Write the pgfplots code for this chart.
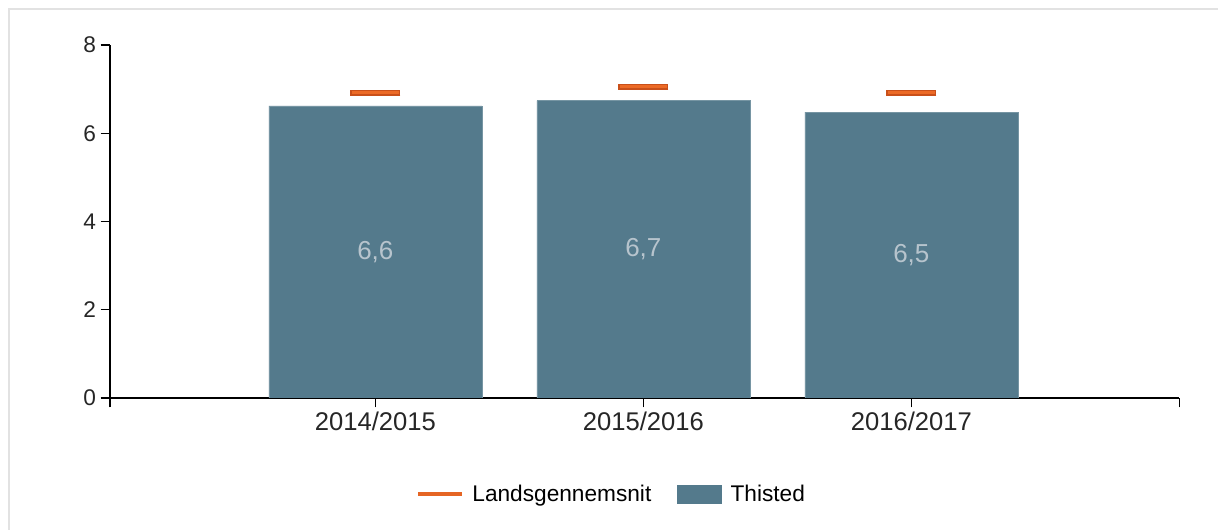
\documentclass[border=0pt]{standalone}
\usepackage{pgfplots}
\pgfplotsset{compat=1.18}
\usepackage{fontspec}
\setmainfont{Liberation Sans}
\definecolor{barc}{HTML}{547A8C}
\definecolor{orgd}{HTML}{C9501A}
\definecolor{orgl}{HTML}{EC6A26}
\definecolor{framec}{HTML}{E2E2E2}
\definecolor{lblc}{HTML}{B7C4CD}
\begin{document}
\begin{tikzpicture}[x=1pt,y=1pt]
\path[use as bounding box] (0,0) rectangle (913.5,397.5);
\draw[framec, line width=1.5pt] (6.4,0) -- (6.4,391.1) -- (913.5,391.1);
\begin{axis}[
  at={(82.5pt,99pt)}, anchor=south west,
  scale only axis, width=802pt, height=264.75pt,
  xmin=0.01, xmax=4, ymin=0, ymax=8,
  axis x line*=bottom, axis y line*=left,
  axis line style={black, line width=1.1pt},
  tick align=outside, major tick length=7pt,
  tick style={black, line width=1.1pt},
  xtick={0.01,1,2,3,4}, xticklabels={,2014/2015,2015/2016,2016/2017,},
  ytick={0,2,4,6,8},
  tick label style={font=\fontsize{17}{20}\selectfont, text=black!85},
  x tick label style={font=\fontsize{19.2}{22}\selectfont},
  /pgf/number format/assume math mode=true,
  legend style={at={(0.4695,-0.272)}, anchor=center, draw=none,
    font=\fontsize{17}{20}\selectfont,
    /tikz/every even column/.append style={column sep=17.5pt}},
  legend columns=2,
]
\addlegendimage{legend image code/.code={\draw[orgl!80!orgd, line width=2.4pt] (0pt,0pt) -- (33pt,0pt);}}
\addlegendentry{\hspace{4.5pt}Landsgennemsnit}
\addplot[ybar, bar width=0.795, fill=barc, draw=barc!80!white, line width=0.4pt,
  legend image code/.code={\fill[barc] (0pt,-6.75pt) rectangle (33pt,6.75pt);},
  visualization depends on={rawy \as \rawy},
  nodes near coords={\pgfmathprintnumber[fixed,precision=1,use comma]{\pgfplotspointmeta}},
  point meta=y,
  nodes near coords style={anchor=center, yshift={-\rawy*16.547pt}, text=lblc,
    font=\fontsize{19.5}{22}\selectfont}]
  coordinates {(1,6.62) (2,6.74) (3,6.48)};
\addlegendentry{\hspace{4.5pt}Thisted}
\addplot[only marks, mark=-, mark size=18.75pt, mark options={line width=4.5pt, draw=orgd}, forget plot]
  coordinates {(1,6.92) (2,7.05) (3,6.92)};
\addplot[only marks, mark=-, mark size=17.6pt, mark options={line width=2.2pt, draw=orgl}, forget plot]
  coordinates {(1,6.92) (2,7.05) (3,6.92)};
\end{axis}
\end{tikzpicture}
\end{document}
